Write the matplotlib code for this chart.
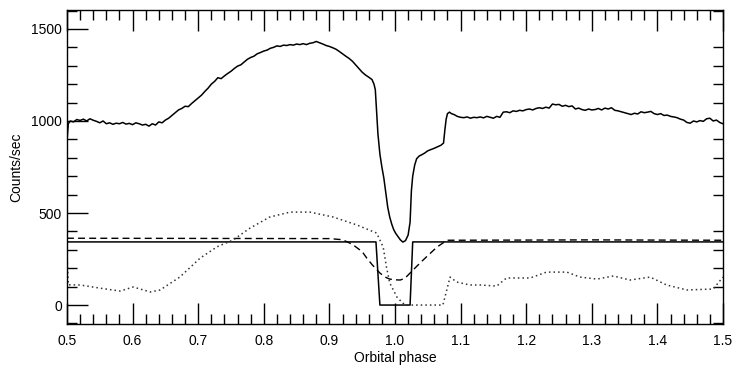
import matplotlib
matplotlib.use("Agg")
import matplotlib.pyplot as plt
from matplotlib.ticker import MultipleLocator

plt.rcParams['font.family'] = ['Liberation Sans', 'DejaVu Sans']

# Observed light curve (solid, top)
lc_phase = [0.500, 0.502, 0.505, 0.510, 0.515, 0.520, 0.525, 0.530, 0.535, 0.540, 0.545, 0.550,
            0.555, 0.560, 0.565, 0.570, 0.575, 0.580, 0.585, 0.590, 0.595, 0.600, 0.605, 0.610,
            0.615, 0.620, 0.625, 0.630, 0.635, 0.640, 0.645, 0.650, 0.655, 0.660, 0.665, 0.670,
            0.675, 0.680, 0.685, 0.690, 0.695, 0.700, 0.705, 0.710, 0.715, 0.720, 0.725, 0.730,
            0.735, 0.740, 0.745, 0.750, 0.755, 0.760, 0.765, 0.770, 0.775, 0.780, 0.785, 0.790,
            0.795, 0.800, 0.805, 0.810, 0.815, 0.820, 0.825, 0.830, 0.835, 0.840, 0.845, 0.850,
            0.855, 0.860, 0.865, 0.870, 0.875, 0.880, 0.885, 0.890, 0.895, 0.900, 0.905, 0.910,
            0.915, 0.920, 0.925, 0.930, 0.935, 0.940, 0.945, 0.950, 0.955, 0.960, 0.965, 0.968,
            0.970, 0.972, 0.974, 0.977, 0.980, 0.983, 0.986, 0.989, 0.992, 0.995, 0.998, 1.001,
            1.004, 1.008, 1.012, 1.016, 1.020, 1.023, 1.025, 1.027, 1.030, 1.033, 1.037, 1.040,
            1.045, 1.050, 1.055, 1.060, 1.065, 1.070, 1.074, 1.076, 1.078, 1.080, 1.083, 1.086,
            1.090, 1.095, 1.100, 1.105, 1.110, 1.115, 1.120, 1.125, 1.130, 1.135, 1.140, 1.145,
            1.150, 1.155, 1.160, 1.165, 1.170, 1.175, 1.180, 1.185, 1.190, 1.195, 1.200, 1.205,
            1.210, 1.215, 1.220, 1.225, 1.230, 1.235, 1.240, 1.245, 1.250, 1.255, 1.260, 1.265,
            1.270, 1.275, 1.280, 1.285, 1.290, 1.295, 1.300, 1.305, 1.310, 1.315, 1.320, 1.325,
            1.330, 1.335, 1.340, 1.345, 1.350, 1.355, 1.360, 1.365, 1.370, 1.375, 1.380, 1.385,
            1.390, 1.395, 1.400, 1.405, 1.410, 1.415, 1.420, 1.425, 1.430, 1.435, 1.440, 1.445,
            1.450, 1.455, 1.460, 1.465, 1.470, 1.475, 1.480, 1.485, 1.490, 1.495, 1.500]
lc_counts = [890, 985, 1000, 995, 1008, 1003, 1010, 1000, 1012, 1004, 998, 990,
             1000, 985, 990, 982, 988, 985, 992, 983, 987, 980, 990, 985,
             978, 982, 972, 985, 978, 995, 990, 1005, 1015, 1030, 1045, 1060,
             1068, 1080, 1078, 1095, 1110, 1125, 1140, 1160, 1178, 1200, 1215, 1235,
             1230, 1245, 1258, 1270, 1285, 1298, 1305, 1320, 1335, 1345, 1352, 1365,
             1372, 1380, 1385, 1395, 1400, 1408, 1405, 1412, 1410, 1415, 1412, 1418,
             1415, 1420, 1415, 1422, 1425, 1432, 1425, 1418, 1410, 1405, 1398, 1390,
             1378, 1365, 1352, 1340, 1325, 1305, 1285, 1265, 1250, 1238, 1225, 1200,
             1170, 1050, 930, 820, 750, 690, 610, 530, 478, 440, 410, 390,
             375, 355, 342, 350, 380, 450, 620, 700, 760, 795, 810, 815,
             825, 838, 845, 852, 860, 868, 880, 950, 1010, 1040, 1048, 1040,
             1035, 1025, 1020, 1018, 1022, 1015, 1020, 1018, 1022, 1017, 1025, 1020,
             1015, 1025, 1020, 1048, 1050, 1045, 1055, 1052, 1058, 1055, 1062, 1065,
             1060, 1068, 1072, 1068, 1075, 1070, 1092, 1088, 1090, 1080, 1085, 1078,
             1082, 1065, 1070, 1062, 1058, 1065, 1060, 1062, 1068, 1060, 1070, 1065,
             1072, 1058, 1055, 1050, 1045, 1040, 1035, 1042, 1038, 1050, 1045, 1048,
             1052, 1040, 1035, 1040, 1030, 1032, 1025, 1022, 1018, 1010, 1005, 992,
             988, 1000, 995, 1002, 998, 1012, 1015, 1000, 1005, 992, 985]

# Model component: solid (eclipsed flat component)
m1_phase = [0.500, 0.971, 0.977, 1.023, 1.027, 1.500]
m1_counts = [343, 343, 0, 0, 343, 343]

# Model component: dashed
m2_phase = [0.500, 0.700, 0.900, 0.920, 0.935, 0.950, 0.957, 0.965, 0.977, 0.985, 0.992,
            1.000, 1.008, 1.015, 1.023, 1.033, 1.043, 1.055, 1.064, 1.073, 1.080, 1.300, 1.500]
m2_counts = [363, 362, 361, 355, 330, 290, 255, 220, 174, 152, 141,
             137, 136, 145, 174, 210, 245, 285, 315, 337, 352, 354, 352]

# Model component: dotted
m3_phase = [0.500, 0.502, 0.520, 0.550, 0.581, 0.601, 0.627, 0.642, 0.672, 0.703, 0.729,
            0.753, 0.779, 0.809, 0.840, 0.870, 0.906, 0.942, 0.972, 0.982, 0.987, 0.992,
            1.003, 1.012, 1.020, 1.073, 1.084, 1.094, 1.114, 1.130, 1.155, 1.170, 1.206,
            1.231, 1.262, 1.282, 1.308, 1.333, 1.358, 1.389, 1.414, 1.445, 1.485, 1.500]
m3_counts = [280, 110, 109, 92, 76, 98, 71, 82, 152, 255, 317,
             353, 418, 478, 505, 505, 478, 435, 391, 315, 207, 120,
             43, 10, 0, 0, 152, 125, 109, 109, 103, 147, 147,
             179, 179, 152, 141, 158, 136, 152, 109, 82, 87, 152]

fig = plt.figure(figsize=(7.32, 3.70), dpi=100)
ax = fig.add_axes([0.0915, 0.1243, 0.8962, 0.8487])

ax.plot(lc_phase, lc_counts, color='black', lw=1.1)
ax.plot(m1_phase, m1_counts, color='black', lw=1.1)
ax.plot(m2_phase, m2_counts, color='black', lw=1.0, linestyle=(0, (5, 3)))
ax.plot(m3_phase, m3_counts, color='#333333', lw=1.1, linestyle=(0, (1, 2)))

ax.set_xlim(0.5, 1.5)
ax.set_ylim(-103, 1603)
ax.xaxis.set_major_locator(MultipleLocator(0.1))
ax.xaxis.set_minor_locator(MultipleLocator(0.02))
ax.yaxis.set_major_locator(MultipleLocator(500))
ax.yaxis.set_minor_locator(MultipleLocator(100))
ax.xaxis.set_major_formatter(plt.FuncFormatter(lambda v, p: f"{v:.1f}"))

ax.tick_params(axis='both', which='major', direction='in', length=15, width=1,
               top=True, right=False, labelsize=10)
ax.tick_params(axis='both', which='minor', direction='in', length=7, width=1,
               top=True, right=True)
ax.tick_params(axis='x', which='major', pad=7)

ax.set_xlabel('Orbital phase', fontsize=10, labelpad=2)
ax.set_ylabel('Counts/sec', fontsize=10, labelpad=6)
for s in ax.spines.values():
    s.set_linewidth(1.0)

fig.savefig('out.png', dpi=100)
